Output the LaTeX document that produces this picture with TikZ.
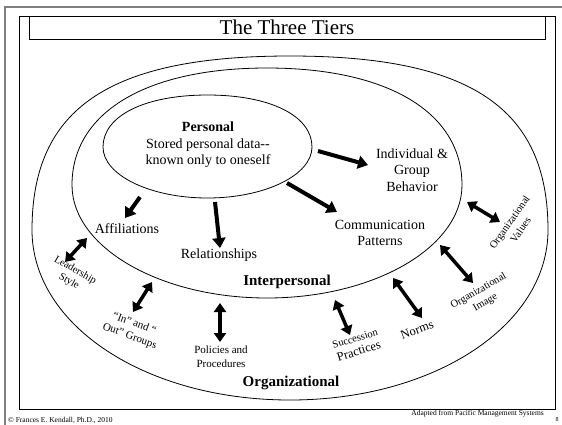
\documentclass[tikz,border=0pt]{standalone}
\usepackage{fontspec}
\setmainfont{Liberation Serif}
\usetikzlibrary{arrows.meta}
\newcommand\eggshape[8]{% name cx cy rx ryT ryB kT kB
  \draw[eggline] ({#2-#4},{#3}) .. controls ({#2-#4},{#3-#7*#5}) and ({#2-#7*#4},{#3-#5}) .. ({#2},{#3-#5})
   .. controls ({#2+#7*#4},{#3-#5}) and ({#2+#4},{#3-#7*#5}) .. ({#2+#4},{#3})
   .. controls ({#2+#4},{#3+#8*#6}) and ({#2+#8*#4},{#3+#6}) .. ({#2},{#3+#6})
   .. controls ({#2-#8*#4},{#3+#6}) and ({#2-#4},{#3+#8*#6}) .. cycle;}
\tikzset{
  eggline/.style={draw=black, line width=0.8pt},
  frame/.style={draw=black, line width=0.9pt},
  lbl/.style={font=\fontsize{14}{16.5}\selectfont, align=center, inner sep=0pt},
  blbl/.style={font=\fontsize{15}{17}\selectfont\bfseries, align=center, inner sep=0pt},
  slbl/.style={font=\fontsize{10.5}{13.5}\selectfont, align=center, inner sep=0pt},
  foot/.style={font=\fontsize{7.5}{9}\selectfont, inner sep=0pt},
  arr/.style={line width=4pt, -{Triangle[length=10pt,width=13pt]}},
  darr/.style={line width=3.5pt, {Triangle[length=9pt,width=12pt]}-{Triangle[length=9pt,width=12pt]}}
}
\begin{document}
\begin{tikzpicture}[x=1pt,y=-1pt]
\useasboundingbox (0,0) rectangle (562,424);
\clip (0,0) rectangle (562,424);
\fill[white] (0,0) rectangle (562,424);
% frames
\draw[gray, line width=1.3pt] (5,430) -- (5,7) -- (570,7);
\draw[frame] (19,16) rectangle (555,409);
\draw[frame] (29,16) rectangle (545,39);
\node[font=\fontsize{21}{24}\selectfont, inner sep=0pt] (title) at (287,27.5) {The Three Tiers};
% tiers
\eggshape{org}{290}{230}{258}{174}{170}{0.70}{0.56}
\eggshape{inter}{267}{185}{195}{117}{113}{0.62}{0.55}
\eggshape{pers}{207.5}{147}{104.5}{52}{51}{0.60}{0.55}
% texts
\node[lbl] (personal) at (208,145) {\textbf{Personal}\\Stored personal data-{}-\\known only to oneself};
\node[lbl] (indiv) at (412,170) {Individual \&\\Group\\Behavior};
\node[lbl] (comm) at (380,233) {Communication\\Patterns};
\node[lbl] (affil) at (127,229) {Affiliations};
\node[lbl] (relat) at (219,255) {Relationships};
\node[blbl] (interp) at (287,282) {Interpersonal};
\node[blbl] (organ) at (291,383) {Organizational};
\node[slbl, font=\fontsize{11}{14}\selectfont] (policies) at (221,357) {Policies and\\Procedures};
\node[slbl, font=\fontsize{10.5}{12.5}\selectfont, rotate=-30] (leader) at (72,276) {Leadership\\Style};
\node[slbl, font=\fontsize{11}{13.5}\selectfont, rotate=-20] (inout) at (132,330) {“In” and “\\Out” Groups};
\node[slbl, font=\fontsize{10.5}{13.5}\selectfont, rotate=17] (success) at (357,345) {Succession\\{\fontsize{12.5}{13}\selectfont Practices}};
\node[slbl, font=\fontsize{12.5}{14}\selectfont, rotate=20] (norms) at (417,330) {Norms};
\node[slbl, rotate=30] (image) at (482,297) {Organizational\\Image};
\node[slbl, rotate=55] (values) at (515,226) {Organizational\\Values};
% footer
\node[foot, anchor=west] (copy) at (8,420) {© Frances E. Kendall, Ph.D., 2010};
\node[foot, anchor=east] (adapt) at (544,414) {Adapted from Pacific Management Systems};
\node[foot, font=\fontsize{6}{7}\selectfont] (page) at (557,420) {8};
% arrow endpoints
\coordinate (a1s) at (318,151); \coordinate (a1e) at (368,165);
\coordinate (a2s) at (287,183); \coordinate (a2e) at (337,212);
\coordinate (a3s) at (215,202); \coordinate (a3e) at (220,248);
\coordinate (a4s) at (140,197); \coordinate (a4e) at (125,218);
\coordinate (b1s) at (87,238);  \coordinate (b1e) at (65,262);
\coordinate (b2s) at (152,282); \coordinate (b2e) at (133,312);
\coordinate (b3s) at (220,303); \coordinate (b3e) at (220,342);
\coordinate (b4s) at (335,300); \coordinate (b4e) at (350,335);
\coordinate (b5s) at (393,278); \coordinate (b5e) at (422,318);
\coordinate (b6s) at (440,245); \coordinate (b6e) at (473,283);
\coordinate (b7s) at (467,202); \coordinate (b7e) at (500,222);
\draw[arr] (a1s) -- (a1e);
\draw[arr] (a2s) -- (a2e);
\draw[arr] (a3s) -- (a3e);
\draw[arr] (a4s) -- (a4e);
\draw[darr] (b1s) -- (b1e);
\draw[darr] (b2s) -- (b2e);
\draw[darr] (b3s) -- (b3e);
\draw[darr] (b4s) -- (b4e);
\draw[darr] (b5s) -- (b5e);
\draw[darr] (b6s) -- (b6e);
\draw[darr] (b7s) -- (b7e);
\end{tikzpicture}
\end{document}
